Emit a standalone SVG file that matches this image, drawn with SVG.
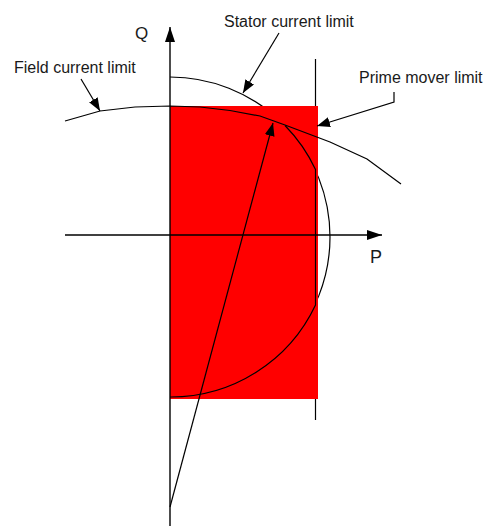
<svg xmlns="http://www.w3.org/2000/svg" width="493" height="527" viewBox="0 0 493 527">
<style>
.ln{fill:none;stroke:#000;stroke-width:1.2}
.ax{fill:none;stroke:#000;stroke-width:1.4}
.lbl{font-family:"Liberation Sans",Arial,sans-serif;font-size:16px;fill:#1a1a1a}
</style>
<defs>
<marker id="ah" viewBox="0 0 13 10" refX="13" refY="5" markerWidth="13" markerHeight="10" markerUnits="userSpaceOnUse" orient="auto"><path d="M0,0 L13,5 L0,10 z" fill="#000"/></marker>
<marker id="axh" viewBox="0 0 15 10" refX="15" refY="5" markerWidth="15" markerHeight="10" markerUnits="userSpaceOnUse" orient="auto"><path d="M0,0 L15,5 L0,10 z" fill="#000"/></marker>
</defs>
<g id="stator-circle"><path class="ln" d="M170,77 A160,160 0 0 1 330,237 A160,160 0 0 1 170,397"/></g>
<g id="prime-mover-line"><line class="ln" x1="315.5" y1="59" x2="315.5" y2="420"/></g>
<g id="capability-region"><rect x="170" y="106" width="148" height="293" fill="#ff0000"/></g>
<g id="connectors">
<line class="ax" x1="170" y1="526" x2="170" y2="27" marker-end="url(#axh)"/>
<line class="ax" x1="65" y1="235" x2="382" y2="235" marker-end="url(#axh)"/>
<path id="field-curve" class="ln" d="M65,121 L100,111 L135,107 L170,106 L200,107 L230,110.5 L260,116 L285,125 L330,142 L367,159 L401,184"/>
<path id="boundary" class="ln" d="M285,125.5 A160,160 0 0 1 315.5,169.5 L315.5,305 A160,160 0 0 1 170,397"/>
<line class="ln" x1="170" y1="507" x2="273" y2="123" marker-end="url(#ah)"/>
<line class="ln" x1="81" y1="79" x2="100" y2="111" marker-end="url(#ah)"/>
<line class="ln" x1="279" y1="33" x2="243" y2="93" marker-end="url(#ah)"/>
<polyline class="ln" points="394,92 394,102 317,126" marker-end="url(#ah)"/>
</g>
<g id="labels">
<text class="lbl" x="135" y="39" style="font-size:17px">Q</text>
<text class="lbl" x="370" y="263" style="font-size:18px">P</text>
<text class="lbl" x="14" y="73">Field current limit</text>
<text class="lbl" x="224" y="27">Stator current limit</text>
<text class="lbl" x="359" y="83">Prime mover limit</text>
</g>
</svg>
